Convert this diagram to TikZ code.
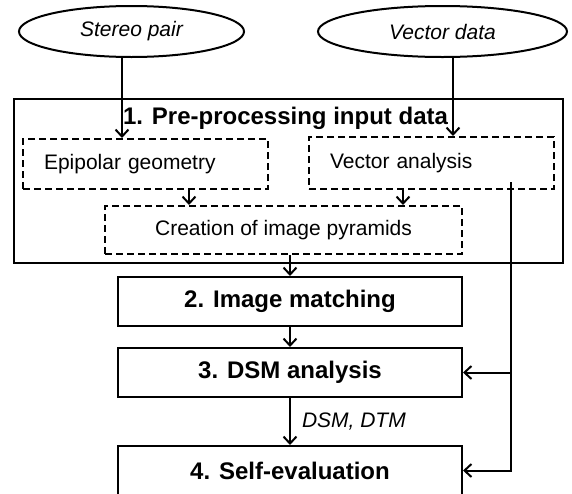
\documentclass[tikz,border=0pt]{standalone}
\usepackage{fontspec}
\setmainfont{Liberation Sans}
\usepackage{tikz}
\usetikzlibrary{shapes,arrows.meta}
\tikzstyle{invis} = [draw=none, inner sep=0]
\tikzstyle{source} = [draw, ellipse, line width=2pt, inner sep=0, minimum height=51pt, font=\fontsize{21}{25}\selectfont\itshape]
\tikzstyle{frame} = [draw, rectangle, line width=2pt, minimum width=549pt, minimum height=164pt]
\tikzstyle{substage} = [draw, rectangle, line width=2pt, dash pattern=on 7pt off 4pt, inner sep=0, font=\fontsize{21}{25}\selectfont]
\tikzstyle{stage} = [draw, rectangle, line width=2pt, minimum width=344pt, minimum height=49pt, font=\fontsize{24}{28}\selectfont\bfseries]

\begin{document}
\begin{tikzpicture}[x=1pt,y=-1pt,->,>={Straight Barb[length=7pt,width=13pt]},line width=2pt]

    \useasboundingbox (0,0) rectangle (572,493);

    \node[source, minimum width=225pt] at (131.5,31.5) (stereo) [] {Stereo pair};
    \node[source, minimum width=249pt] at (442.5,31.5) (vector) [] {Vector data};

    %=====================

    \node[frame] at (288.5,181) (pre) [] {};
    \node[invis, font=\fontsize{24}{28}\selectfont\bfseries] at (285.5,118) (pretitle) [] {1. Pre-processing input data};

    \node[substage, minimum height=50pt, text width=203pt, inner xsep=21pt, align=left] at (145.5,164) (epip) [] {Epipolar geometry};
    \node[substage, minimum height=52pt, text width=203pt, inner xsep=21pt, align=left] at (431.5,163) (vecan) [] {Vector analysis};
    \node[substage, minimum width=357pt, minimum height=48pt] at (283.5,230) (pyr) [] {Creation of image pyramids};

    \coordinate[xshift=-9.5pt] (s1) at (stereo.south);
    \coordinate[xshift=10.5pt] (v1) at (vector.south);
    \coordinate[xshift=43.5pt] (e1) at (epip.south);
    \coordinate[xshift=-28.5pt] (a1) at (vecan.south);

    \path
    (s1) edge [] node {} (s1 |- epip.north)
    (v1) edge [] node {} (v1 |- vecan.north)
    (e1) edge [] node {} (e1 |- pyr.north)
    (a1) edge [] node {} (a1 |- pyr.north);

    %=====================

    \node[stage] at (290,301.5) (match) [] {2. Image matching};
    \node[stage] at (290,372.5) (dsm) [] {3. DSM analysis};
    \node[stage] at (290,470.5) (eval) [] {4. Self-evaluation};

    \path
    (match.north |- pyr.south) edge [] node {} (match.north)
    (match) edge [] node {} (dsm)
    (dsm) edge [] node [right, font=\fontsize{21}{25}\selectfont\itshape, inner sep=11pt] {DSM, DTM} (eval);

    %=====================

    \coordinate (vs) at (511,182);
    \draw (vs) |- (eval.east);
    \draw (vs |- dsm.east) -- (dsm.east);

\end{tikzpicture}
\end{document}
